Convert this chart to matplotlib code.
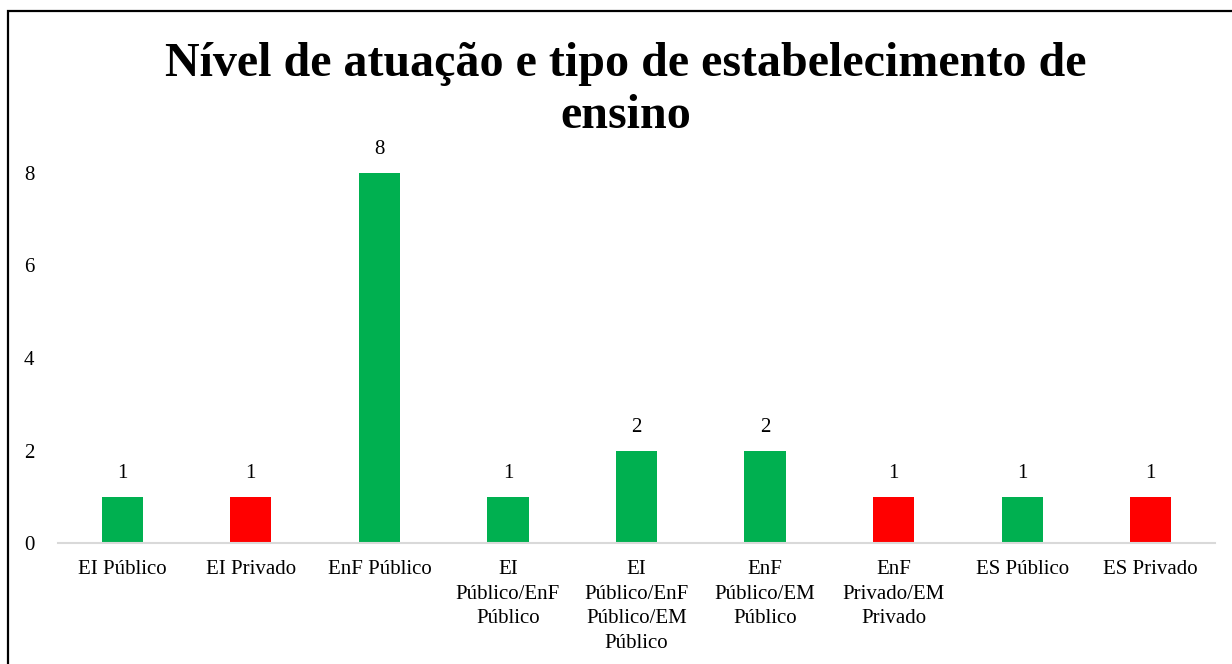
import matplotlib.pyplot as plt
from matplotlib.patches import Rectangle

categories = ["EI Público", "EI Privado", "EnF Público", "EI\nPúblico/EnF\nPúblico",
              "EI\nPúblico/EnF\nPúblico/EM\nPúblico", "EnF\nPúblico/EM\nPúblico",
              "EnF\nPrivado/EM\nPrivado", "ES Público", "ES Privado"]
values = [1, 1, 8, 1, 2, 2, 1, 1, 1]
sector = ["pub", "priv", "pub", "pub", "pub", "pub", "priv", "pub", "priv"]

colors = {"pub": "#00B050", "priv": "#FF0000"}

plt.rcParams["font.family"] = ["Liberation Serif", "DejaVu Serif"]

W, H = 1232, 664
fig = plt.figure(figsize=(W / 100, H / 100), dpi=100)
ax = fig.add_axes([58 / W, 1 - 543 / H, (1215 - 58) / W, (543 - 173) / H])

x = range(len(categories))
bars = ax.bar(x, values, width=0.32, color=[colors[s] for s in sector])
for b, v in zip(bars, values):
    ax.annotate(str(v), (b.get_x() + b.get_width() / 2, v), xytext=(0, 10),
                textcoords="offset points", ha="center", va="bottom", fontsize=15)

ax.set_xlim(-0.5, len(categories) - 0.5)
ax.set_ylim(0, 8)
ax.set_yticks([0, 2, 4, 6, 8])
ax.set_xticks(list(x))
ax.set_xticklabels(categories, fontsize=15, linespacing=1.42)
ax.tick_params(axis="y", length=0, labelsize=15, pad=17)
ax.tick_params(axis="x", length=0, pad=12)
for s in ["top", "right", "left"]:
    ax.spines[s].set_visible(False)
ax.spines["bottom"].set_color("#d9d9d9")
ax.spines["bottom"].set_linewidth(1.5)

fig.text(626 / W, 1 - 90 / H,
         "Nível de atuação e tipo de estabelecimento de\nensino",
         ha="center", va="center", fontsize=34.6, fontweight="bold", linespacing=1.22)

fig.patches.append(Rectangle((7.5 / W, -0.1), 1.2, 1 - 10.5 / H + 0.1,
                             transform=fig.transFigure, fill=False,
                             edgecolor="black", linewidth=1.6))

fig.savefig("out.png", dpi=100)
